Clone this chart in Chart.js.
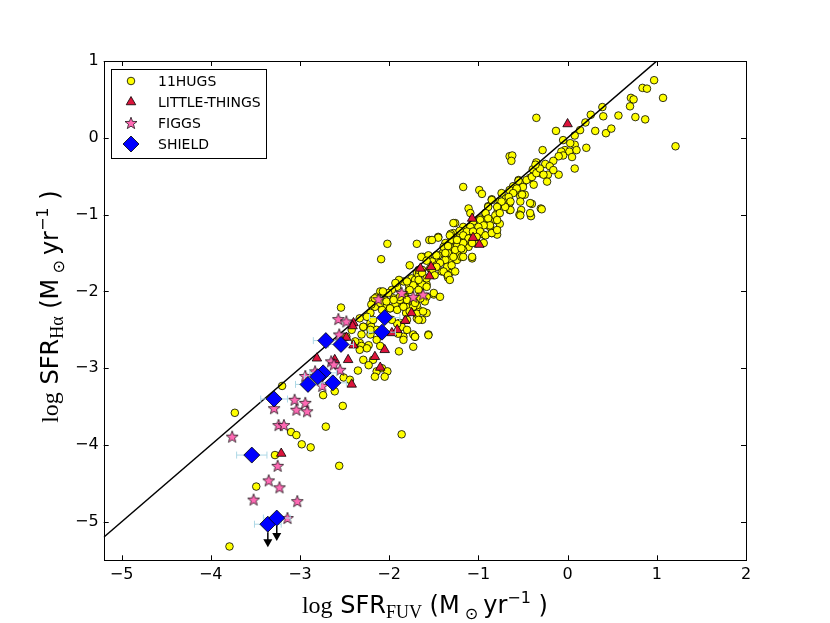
<!DOCTYPE html>
<html>
<head>
<meta charset="utf-8">
<script src="https://cdn.jsdelivr.net/npm/chart.js@4.4.1/dist/chart.umd.min.js"></script>
<style>
html,body{margin:0;padding:0;background:#fff;}
#c{display:block;}
</style>
</head>
<body>
<canvas id="c" width="830" height="623"></canvas>
<script>
// ---------------- data ----------------
const xTicks = [-5, -4, -3, -2, -1, 0, 1, 2];
const yTicks = [-5, -4, -3, -2, -1, 0, 1];
const xRange = [-5.2, 2];
const yRange = [-5.5, 1];
const oneToOne = [-5.2, 2];

const hugs = [
[-0.35,0.26],[-0.13,0.09],[-0.28,-0.16],[-0.05,-0.03],[0.08,0.03],[0.14,0.10],[0.20,0.20],[0.26,0.30],[0.39,0.40],[0.40,0.28],
[0.31,0.09],[0.43,0.06],[0.49,0.12],[0.57,0.29],[0.70,0.41],[0.71,0.52],[0.74,0.50],[0.76,0.27],[0.84,0.65],[0.89,0.64],
[0.97,0.75],[0.87,0.24],[1.07,0.52],[1.21,-0.11],[0.21,-0.13],[0.08,-0.09],[0.03,-0.07],[-0.03,-0.16],[-0.07,-0.18],[0.02,-0.18],
[0.10,-0.16],[0.05,-0.25],[-0.05,-0.23],[-0.10,-0.24],[-0.16,-0.30],[-0.25,-0.34],[-0.35,-0.32],[-0.20,-0.37],[-0.31,-0.46],[-0.22,-0.48],
[-0.10,-0.48],[0.08,-0.40],[-0.38,-0.42],[-0.16,-0.42],
[-0.65,-0.24],[-0.62,-0.23],[-0.63,-0.30],[-1.17,-0.64],[-0.99,-0.68],[-0.96,-0.73],[-0.39,-0.41],[-0.33,-0.45],[-0.42,-0.52],[-0.55,-0.55],
[-0.50,-0.60],[-0.61,-0.63],[-0.57,-0.69],[-0.65,-0.68],[-0.74,-0.72],[-0.69,-0.79],[-0.85,-0.80],[-0.76,-0.83],[-0.65,-0.85],[-0.53,-0.76],
[-0.48,-0.74],[-0.52,-0.94],[-0.40,-0.86],[-0.30,-0.92],[-0.41,-1.02],[-0.54,-1.00],[-0.65,-0.94],[-0.78,-0.89],[-0.79,-0.98],[-0.81,-1.07],
[-0.89,-0.89],[-0.92,-0.98],[-0.98,-1.05],[-0.91,-1.05],[-0.94,-1.13],[-0.87,-1.16],[-0.76,-1.12],[-1.00,-1.20],[-0.85,-1.24],[-0.79,-1.26],
[-0.94,-1.26],[-1.02,-1.28],[-1.11,-0.92],[-1.09,-0.98],[-1.17,-1.16],[-1.21,-1.24],[-1.13,-1.24],[-1.26,-1.11],[-1.28,-1.24],[-1.30,-1.33],
[-1.24,-1.37],[-1.17,-1.40],[-1.26,-1.48],[-1.21,-1.55],[-1.28,-1.59],[-1.07,-1.57],[-1.11,-1.42],[-1.17,-1.33],
[-2.02,-1.38],[-2.09,-1.58],[-1.69,-1.38],[-1.55,-1.33],[-1.45,-1.29],[-1.31,-1.25],[-1.21,-1.21],[-1.62,-1.55],[-1.56,-1.53],[-1.47,-1.57],
[-1.52,-1.61],[-1.40,-1.50],[-1.35,-1.45],[-1.37,-1.39],[-1.32,-1.58],[-1.26,-1.44],[-1.22,-1.52],[-1.19,-1.37],[-1.17,-1.46],[-1.32,-1.76],
[-1.35,-1.78],[-1.41,-1.74],[-1.34,-1.82],[-1.47,-1.66],[-1.54,-1.70],[-1.63,-1.72],[-1.69,-1.76],[-1.77,-1.66],[-1.75,-1.83],[-1.71,-1.89],
[-1.65,-1.94],[-1.58,-1.91],[-1.50,-2.04],[-1.58,-2.07],[-1.65,-2.04],[-1.78,-1.98],[-1.84,-1.87],[-1.89,-1.85],[-1.91,-1.94],[-1.97,-1.98],
[-1.95,-2.09],[-2.05,-2.11],[-2.03,-2.18],[-2.14,-2.07],[-2.18,-2.11],[-2.16,-2.20],[-2.08,-2.24],[-2.23,-2.33],[-2.21,-2.41],[-1.99,-2.22],
[-1.88,-2.13],[-1.82,-2.07],[-1.73,-2.15],[-1.67,-2.24],[-1.63,-2.37],[-1.58,-2.28],[-1.69,-2.35],[-1.73,-2.56],[-1.56,-2.56],[-1.84,-2.59],
[-2.54,-2.21],[-2.10,-2.00],[-2.06,-2.02],[-2.33,-2.35],[-2.20,-2.46],[-2.14,-2.50],[-2.29,-2.46],[-2.31,-2.56],[-2.21,-2.56],[-2.14,-2.63],
[-2.10,-2.71],[-2.23,-2.70],[-2.33,-2.67],[-2.38,-2.65],[-2.48,-2.59],[-2.42,-2.50],[-1.93,-1.89],[-1.78,-1.91],[-1.71,-1.85],[-1.67,-1.79],
[-1.63,-1.91],[-1.81,-2.09],[-1.69,-2.18],[-1.81,-2.20],[-1.93,-2.16],
[-3.20,-3.23],[-3.73,-3.58],[-2.71,-3.76],[-1.86,-3.86],[-2.52,-3.49],[-2.74,-3.35],[-2.61,-3.30],[-2.51,-3.12],[-2.35,-3.03],[-2.44,-3.15],
[-2.31,-2.71],[-2.25,-2.74],[-2.33,-2.76],[-2.29,-2.89],[-2.18,-2.89],[-2.23,-2.96],[-2.14,-3.04],[-2.08,-3.00],[-2.02,-3.04],[-2.05,-3.11],
[-2.16,-3.11],[-1.89,-2.78],[-1.73,-2.72],[-1.71,-2.59],[-1.84,-2.63],[-1.88,-2.41],[-1.81,-2.28],[-1.73,-2.20],[-1.69,-2.11],[-1.88,-2.11],
[-2.20,-2.17],[-2.21,-2.28],
[-3.28,-4.13],[-3.49,-4.54],[-3.79,-5.32],[-3.10,-3.83],[-3.04,-3.87],[-2.98,-3.99],[-2.88,-4.03],[-2.56,-4.27],
[-1.37,-1.37],[-1.32,-1.42],[-1.24,-1.41],[-1.09,-1.35],[-1.02,-1.37],[-1.24,-1.59],[-1.19,-1.55],
[-1.64,-1.55],[-1.45,-1.53],[-1.37,-1.59],[-1.34,-1.50],[-1.43,-1.63],[-1.47,-1.68],[-1.35,-1.68],[-1.30,-1.66],[-1.39,-1.74],[-1.34,-1.79],
[-1.26,-1.74],[-1.32,-1.85],[-1.58,-1.60],[-1.67,-1.72],[-1.63,-1.76],[-1.52,-1.73],[-1.49,-1.79],[-1.58,-1.83],[-1.67,-1.85],[-1.73,-1.92],
[-1.80,-1.87],[-1.77,-1.98],[-1.67,-1.98],[-1.58,-1.94],[-1.50,-2.02],[-1.43,-2.07],[-1.60,-2.13],[-1.65,-2.09],[-1.71,-2.15],[-1.80,-2.11],
[-1.88,-2.07],[-2.01,-2.02],[-2.07,-2.00],[-2.16,-2.09],[-2.10,-2.15],[-2.03,-2.13],[-1.95,-2.11],[-1.99,-2.22],[-1.91,-2.24],[-1.84,-2.20],
[-1.77,-2.26],[-1.69,-2.29],[-1.62,-2.26],[-1.67,-2.37],[-1.80,-2.37],[-1.86,-2.46],[-1.91,-2.42],[-1.97,-2.37],[-2.25,-2.33],[-2.18,-2.37],
[-2.29,-2.46],[-2.21,-2.50],[-1.90,-2.55],[-1.80,-2.50],[-1.71,-2.59],[-1.56,-2.57],
[-0.55,-0.56],[-0.46,-0.55],[-0.40,-0.51],[-0.35,-0.46],[-0.31,-0.40],[-0.36,-0.35],[-0.27,-0.48],[-0.23,-0.57],[-0.38,-0.61],[-0.50,-0.64],
[-0.57,-0.66],[-0.61,-0.72],[-0.66,-0.77],[-0.51,-0.74],[-0.64,-0.83],[-0.53,-0.83],[-0.42,-0.85],[-0.29,-0.93],[-0.42,-0.98],[-0.53,-1.01],
[-0.64,-0.94],[-0.70,-0.90],[-0.74,-0.83],[-0.79,-0.90],[-0.85,-0.81],[-0.89,-0.90],[-0.92,-0.98],[-0.98,-1.07],[-0.89,-1.05],[-0.81,-1.01],
[-0.76,-0.98],[-0.79,-1.07],[-0.87,-1.14],[-0.94,-1.14],[-1.00,-1.16],[-1.06,-1.09],[-1.09,-1.16],[-1.13,-1.22],[-1.17,-1.27],[-1.11,-1.31],
[-1.06,-1.22],[-0.98,-1.22],[-0.92,-1.27],[-0.85,-1.24],[-0.79,-1.20],[-1.02,-1.29],[-0.94,-1.37],[-1.07,-1.37],[-1.17,-1.37],[-1.24,-1.33],
[-1.32,-1.27],[-1.28,-1.11],[-1.45,-1.30],[-1.52,-1.33],[-1.39,-1.42],[-1.34,-1.41],[-1.26,-1.46],[-1.19,-1.44],[-1.37,-1.50],[-1.47,-1.53],
[-1.28,-1.55],[-1.17,-1.55],[-1.07,-1.55]
];

const littleThings = [
[0.00,0.18],[-1.07,-1.05],[-1.06,-1.30],[-0.99,-1.39],[-1.65,-1.70],[-1.53,-1.68],[-1.55,-1.80],[-1.75,-2.28],[-1.82,-2.38],[-1.97,-2.54],
[-1.91,-2.50],[-2.40,-2.41],[-2.41,-2.45],[-2.48,-2.60],[-2.81,-2.87],[-2.61,-2.89],[-2.46,-2.89],[-2.42,-3.21],[-2.40,-2.70],[-2.05,-2.76],
[-2.16,-2.85],[-2.10,-2.99],[-3.21,-4.11]
];

const figgs = [
[-2.57,-2.36],[-2.48,-2.39],[-2.56,-2.56],[-2.65,-2.91],[-2.62,-2.95],[-2.83,-3.04],[-2.55,-3.02],[-2.94,-3.10],[-2.75,-3.23],[-3.06,-3.41],
[-2.94,-3.45],[-3.29,-3.52],[-3.04,-3.54],[-2.92,-3.56],[-3.24,-3.74],[-3.18,-3.74],[-3.76,-3.89],[-3.25,-4.27],[-3.35,-4.46],[-3.23,-4.55],
[-3.52,-4.71],[-3.03,-4.73],[-3.14,-4.95],[-1.86,-2.02],[-1.73,-2.07],[-1.62,-2.04],[-2.12,-2.10]
];

const shieldX    = [-2.05, -2.08, -2.71, -2.54, -2.74, -2.80, -2.91, -2.63, -3.29, -3.54, -3.36, -3.26];
const shieldY    = [-2.34, -2.53, -2.64, -2.69, -3.06, -3.11, -3.21, -3.19, -3.40, -4.13, -5.03, -4.95];
const shieldXErr = [0.17, 0.15, 0.14, 0.14, 0.15, 0.15, 0.14, 0.15, 0.15, 0.17, 0.15, 0.15];
const shieldUpperLimit = [0, 0, 0, 0, 0, 0, 0, 0, 0, 0, 1, 1];
const arrowLength = 0.3;

const seriesNames = ['11HUGS', 'LITTLE-THINGS', 'FIGGS', 'SHIELD'];

// ---------------- styles ----------------
const SANS = '"DejaVu Sans", sans-serif';
const SERIF = '"Liberation Serif", "DejaVu Serif", serif';
const colHugs = '#ffff00', colLT = '#dc143c', colFiggs = '#ff69b4', colShield = '#0000ff';

function makeStar(r, fill) {
  const c = document.createElement('canvas');
  const s = 16;
  c.width = s; c.height = s;
  const g = c.getContext('2d');
  const cx = s / 2, cy = s / 2 + 0.5;
  g.beginPath();
  for (let i = 0; i < 10; i++) {
    const rr = (i % 2) ? r * 0.42 : r;
    const a = -Math.PI / 2 + i * Math.PI / 5;
    g.lineTo(cx + rr * Math.cos(a), cy + rr * Math.sin(a));
  }
  g.closePath();
  g.fillStyle = fill; g.fill();
  g.lineWidth = 0.7; g.strokeStyle = '#000'; g.stroke();
  return c;
}
const starImg = makeStar(6.3, colFiggs);

const toPts = arr => arr.map(p => ({x: p[0], y: p[1]}));
const minusFmt = v => (v < 0 ? '\u2212' + Math.abs(v) : String(v));

function drawRich(ctx, parts, x, y, rot) {
  ctx.save();
  ctx.translate(x, y);
  if (rot) ctx.rotate(rot);
  let total = 0;
  parts.forEach(p => { ctx.font = p.f; p.w = ctx.measureText(p.t).width; total += p.w; });
  let cx = -total / 2;
  ctx.textBaseline = 'alphabetic';
  ctx.textAlign = 'left';
  ctx.fillStyle = '#000';
  parts.forEach(p => { ctx.font = p.f; ctx.fillText(p.t, cx, p.dy || 0); cx += p.w; });
  ctx.restore();
}
function titleParts(sub) {
  return [
    {t: 'log', f: '24px ' + SERIF},
    {t: ' SFR', f: '24px ' + SANS},
    {t: sub, f: '18px ' + SERIF, dy: 5},
    {t: ' (M', f: '24px ' + SANS},
    {t: ' \u2299 ', f: '16px ' + SANS, dy: 6},
    {t: 'yr', f: '24px ' + SANS},
    {t: '\u22121', f: '16px ' + SANS, dy: -10},
    {t: ' )', f: '24px ' + SANS}
  ];
}

const decorPlugin = {
  id: 'decor',
  beforeDatasetDraw(chart, args) {
    const ds = chart.data.datasets[args.index];
    if (ds.label !== 'SHIELD') return;
    const ctx = chart.ctx, xs = chart.scales.x, ys = chart.scales.y;
    ctx.save();
    ctx.strokeStyle = '#add8e6';
    ctx.lineWidth = 1;
    shieldX.forEach((x, i) => {
      const py = ys.getPixelForValue(shieldY[i]);
      const x0 = xs.getPixelForValue(x - shieldXErr[i]);
      const x1 = xs.getPixelForValue(x + shieldXErr[i]);
      ctx.beginPath();
      ctx.moveTo(x0, py); ctx.lineTo(x1, py);
      ctx.moveTo(x0, py - 3.5); ctx.lineTo(x0, py + 3.5);
      ctx.moveTo(x1, py - 3.5); ctx.lineTo(x1, py + 3.5);
      ctx.stroke();
    });
    ctx.restore();
  },
  afterDatasetsDraw(chart) {
    const ctx = chart.ctx, xs = chart.scales.x, ys = chart.scales.y;
    const a = chart.chartArea;
    // upper limit arrows
    ctx.save();
    ctx.strokeStyle = '#000'; ctx.fillStyle = '#000'; ctx.lineWidth = 1.5;
    shieldX.forEach((x, i) => {
      if (!shieldUpperLimit[i]) return;
      const px = xs.getPixelForValue(x);
      const py0 = ys.getPixelForValue(shieldY[i]) + 8;
      const py1 = ys.getPixelForValue(shieldY[i] - arrowLength);
      ctx.beginPath(); ctx.moveTo(px, py0); ctx.lineTo(px, py1 - 7); ctx.stroke();
      ctx.beginPath(); ctx.moveTo(px - 4.5, py1 - 8); ctx.lineTo(px + 4.5, py1 - 8); ctx.lineTo(px, py1); ctx.closePath(); ctx.fill();
    });
    ctx.restore();

    // frame and inward ticks
    ctx.save();
    ctx.strokeStyle = '#000'; ctx.lineWidth = 1;
    ctx.strokeRect(Math.round(a.left) + 0.5, Math.round(a.top) + 0.5, Math.round(a.right - a.left), Math.round(a.bottom - a.top));
    ctx.beginPath();
    xTicks.forEach(v => {
      const px = Math.round(xs.getPixelForValue(v)) + 0.5;
      ctx.moveTo(px, a.bottom); ctx.lineTo(px, a.bottom - 5);
      ctx.moveTo(px, a.top); ctx.lineTo(px, a.top + 5);
    });
    yTicks.forEach(v => {
      const py = Math.round(ys.getPixelForValue(v)) + 0.5;
      ctx.moveTo(a.left, py); ctx.lineTo(a.left + 5, py);
      ctx.moveTo(a.right, py); ctx.lineTo(a.right - 5, py);
    });
    ctx.stroke();
    ctx.restore();

    // legend
    ctx.save();
    const lx = 111, ly = 69, lw = 155, lh = 89;
    ctx.fillStyle = '#fff';
    ctx.fillRect(lx, ly, lw, lh);
    ctx.strokeStyle = '#000'; ctx.lineWidth = 1;
    ctx.strokeRect(lx + 0.5, ly + 0.5, lw, lh);
    const rowsY = [81, 102, 123, 144];
    const mx = 131, tx = 158;
    ctx.font = '14px ' + SANS;
    ctx.textBaseline = 'middle';
    ctx.textAlign = 'left';
    seriesNames.forEach((name, i) => {
      const y = rowsY[i];
      ctx.lineWidth = 0.8; ctx.strokeStyle = '#000';
      if (i === 0) {
        ctx.beginPath(); ctx.arc(mx, y, 3.8, 0, Math.PI * 2);
        ctx.fillStyle = colHugs; ctx.fill(); ctx.stroke();
      } else if (i === 1) {
        const r = 5.5;
        ctx.beginPath();
        ctx.moveTo(mx, y - r);
        ctx.lineTo(mx + r * Math.sin(2 * Math.PI / 3), y - r * Math.cos(2 * Math.PI / 3));
        ctx.lineTo(mx + r * Math.sin(4 * Math.PI / 3), y - r * Math.cos(4 * Math.PI / 3));
        ctx.closePath();
        ctx.fillStyle = colLT; ctx.fill(); ctx.stroke();
      } else if (i === 2) {
        ctx.drawImage(starImg, mx - starImg.width / 2, y - starImg.height / 2);
      } else {
        const r = 8;
        ctx.beginPath();
        ctx.moveTo(mx, y - r); ctx.lineTo(mx + r, y); ctx.lineTo(mx, y + r); ctx.lineTo(mx - r, y);
        ctx.closePath();
        ctx.fillStyle = colShield; ctx.fill(); ctx.stroke();
      }
      ctx.fillStyle = '#000';
      ctx.fillText(name, tx, y + 1);
    });
    ctx.restore();

    // axis titles
    const cxMid = (a.left + a.right) / 2;
    const cyMid = (a.top + a.bottom) / 2 - 4;
    drawRich(ctx, titleParts('FUV'), cxMid, 613, 0);
    drawRich(ctx, titleParts('H\u03b1'), 58, cyMid, -Math.PI / 2);
  }
};

Chart.defaults.font.family = SANS;
Chart.defaults.color = '#000';

new Chart(document.getElementById('c'), {
  type: 'scatter',
  data: {
    datasets: [
      {label: 'SHIELD', data: shieldX.map((x, i) => ({x: x, y: shieldY[i]})), pointStyle: 'rectRot', pointRadius: 8,
       backgroundColor: colShield, borderColor: '#000', borderWidth: 0.8, order: 1},
      {label: 'FIGGS', data: toPts(figgs), pointStyle: starImg, pointRadius: 6, order: 2},
      {label: 'LITTLE-THINGS', data: toPts(littleThings), pointStyle: 'triangle', pointRadius: 5.5,
       backgroundColor: colLT, borderColor: '#000', borderWidth: 0.8, order: 3},
      {label: '1:1', data: oneToOne.map(v => ({x: v, y: v})), showLine: true, pointRadius: 0,
       borderColor: '#000', borderWidth: 1.5, order: 4},
      {label: '11HUGS', data: toPts(hugs), pointStyle: 'circle', pointRadius: 3.8,
       backgroundColor: colHugs, borderColor: '#000', borderWidth: 0.8, order: 5}
    ]
  },
  options: {
    responsive: false,
    animation: false,
    events: [],
    layout: {padding: {left: 0, right: 84, top: 61, bottom: 0}},
    plugins: {legend: {display: false}, tooltip: {enabled: false}},
    scales: {
      x: {
        type: 'linear', min: xRange[0], max: xRange[1],
        grid: {display: false, drawTicks: false},
        border: {display: false},
        afterBuildTicks: s => { s.ticks = xTicks.map(v => ({value: v})); },
        afterFit: s => { s.height = 62.7; },
        ticks: {font: {size: 16, family: SANS}, color: '#000', padding: 5, callback: v => minusFmt(v), maxRotation: 0}
      },
      y: {
        type: 'linear', min: yRange[0], max: yRange[1],
        grid: {display: false, drawTicks: false},
        border: {display: false},
        afterBuildTicks: s => { s.ticks = yTicks.map(v => ({value: v})); },
        afterFit: s => { s.width = 103.7; },
        ticks: {font: {size: 16, family: SANS}, color: '#000', padding: 5, callback: v => minusFmt(v)}
      }
    }
  },
  plugins: [decorPlugin]
});
</script>
</body>
</html>
